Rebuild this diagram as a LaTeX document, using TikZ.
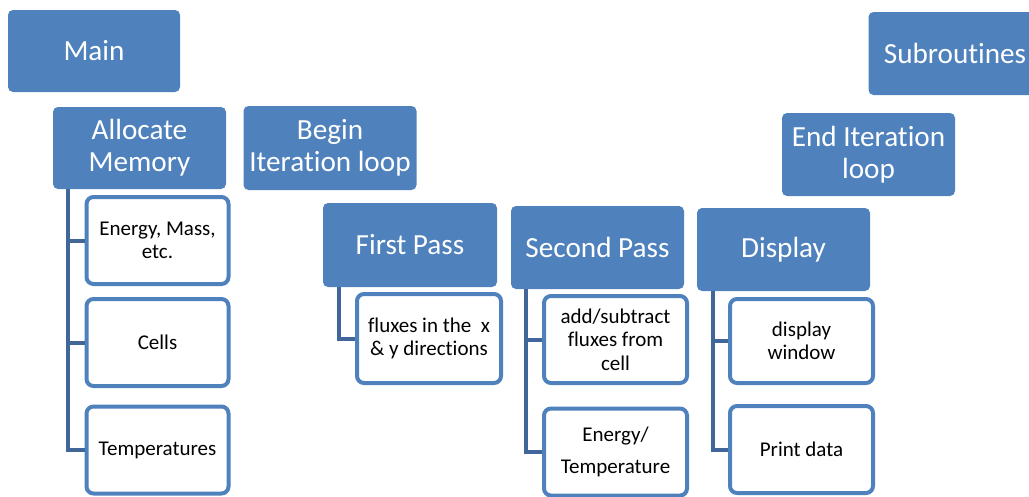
\documentclass[tikz,border=0pt]{standalone}
\usepackage{fontspec}
\setmainfont{Carlito}[Ligatures={NoCommon}]
\definecolor{boxblue}{HTML}{4F81BD}
\definecolor{linkblue}{HTML}{41679A}

\begin{document}
\begin{tikzpicture}[x=1pt,y=-1pt]

\tikzset{head/.style = {fill=boxblue, rounded corners=5pt, inner sep=0pt, text=white, align=center,
    minimum width=173pt, minimum height=83pt, font=\fontsize{29.2}{32}\selectfont}}
\tikzset{leaf/.style = {draw=boxblue, line width=4pt, fill=white, rounded corners=7pt, inner sep=0pt,
    align=center, minimum width=142pt, minimum height=87pt, font=\fontsize{21}{23.5}\selectfont}}
\tikzset{link/.style = {draw=linkblue, line width=4pt}}

\useasboundingbox (0,0) rectangle (1029,496);
\clip (0,0) rectangle (1029,496);

%top level
\node[head, minimum width=172pt, minimum height=82pt] (main) at (94,51) {Main};
\node[head] (sub) at (955,53.5) {Subroutines};
\node[head, minimum height=82pt] (alloc) at (139.5,148) {Allocate\\Memory};
\node[head, minimum height=84pt] (begin) at (330,148) {Begin\\Iteration loop};
\node[head] (end) at (868.5,154.5) {End Iteration\\loop};
\node[head, minimum width=174pt, minimum height=84pt] (first) at (410,245) {First Pass};
\node[head] (second) at (597.5,247.5) {Second Pass};
\node[head] (display) at (783.5,249.5) {Display};

%leaves
\node[leaf] (a1) at (157.5,240.5) {Energy, Mass,\\etc.};
\node[leaf] (a2) at (157.5,342.5) {Cells};
\node[leaf] (a3) at (157.5,450) {Temperatures};
\node[leaf, minimum width=144pt, minimum height=89pt] (f1) at (429,338.5) {fluxes in the \ x\\\& y directions};
\node[leaf, minimum width=143pt] (s1) at (615.5,339.5) {add/subtract\\fluxes from\\cell};
\node[leaf, minimum width=143pt] (s2) at (615.5,452) {Energy/\\[8pt]Temperature};
\node[leaf, minimum width=143pt, minimum height=84pt] (d1) at (801.5,341) {display\\window};
\node[leaf, minimum width=143pt] (d2) at (801.5,449.5) {Print data};

%connectors
\foreach \c in {a1,a2,a3}
  \draw[link] ([xshift=15pt]alloc.south west) |- (\c.west);
\draw[link] ([xshift=16pt]first.south west) |- (f1.west);
\foreach \c in {s1,s2}
  \draw[link] ([xshift=15pt]second.south west) |- (\c.west);
\foreach \c in {d1,d2}
  \draw[link] ([xshift=16pt]display.south west) |- (\c.west);

\end{tikzpicture}
\end{document}
